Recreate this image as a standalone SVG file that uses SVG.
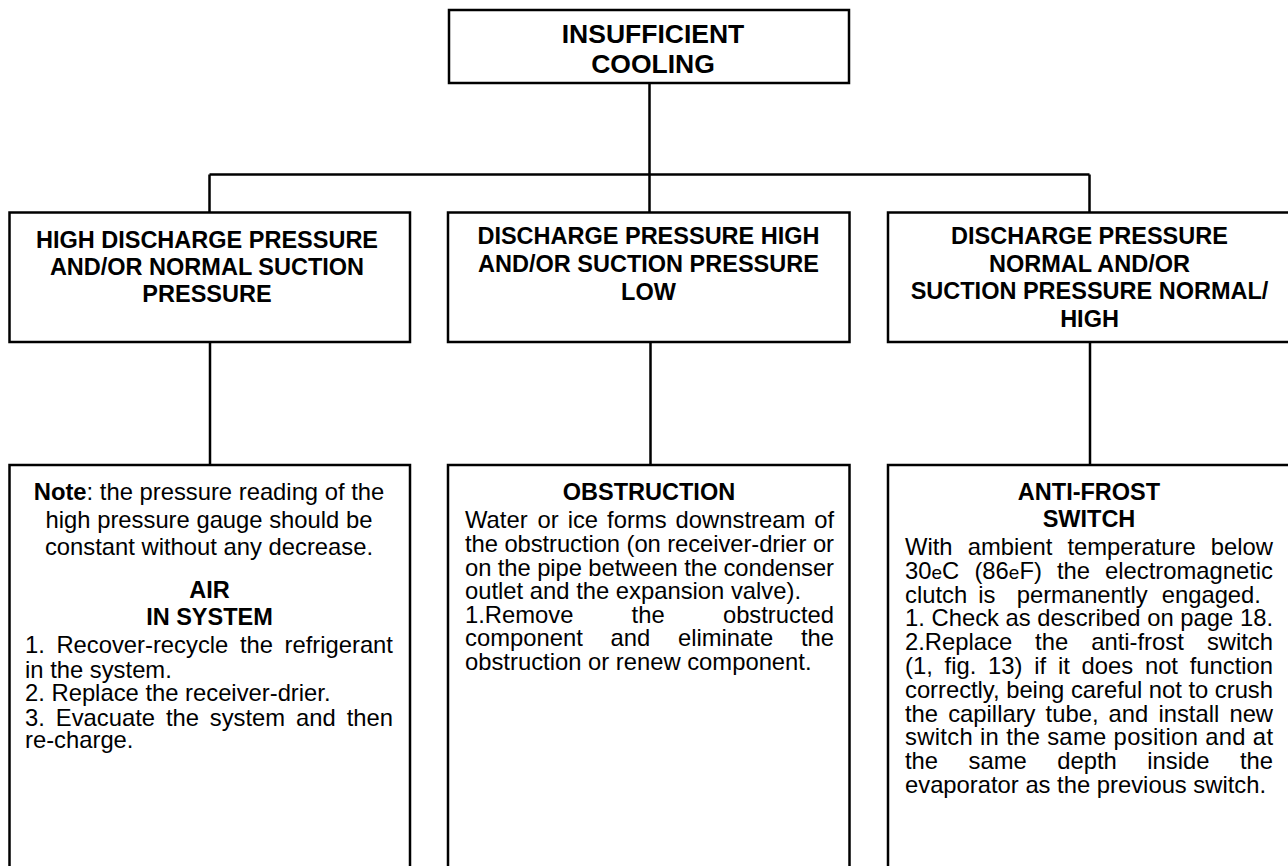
<svg xmlns="http://www.w3.org/2000/svg" width="1288" height="866" viewBox="0 0 1288 866">
<style>
.box{fill:#fff;stroke:#000;stroke-width:2.5}
.conn{fill:none;stroke:#000;stroke-width:2.5}
.h{font-family:"Liberation Sans",Arial,Helvetica,sans-serif;font-weight:bold;font-size:23.5px;text-anchor:middle;fill:#000}
.top{font-size:26.5px}
.t{font-family:"Liberation Sans",Arial,Helvetica,sans-serif;font-size:23.8px;fill:#000}
.c{text-anchor:middle}
.b{font-weight:bold}
.deg{font-size:19px}
</style>
<rect width="1288" height="866" fill="#fff"/>
<g id="connectors">
<path class="conn" d="M649.5 83 V174.5 M209.5 174.5 H1089.5 M209.5 174.5 V212.5 M649.5 174.5 V212.5 M1089.5 174.5 V212.5"/>
<path class="conn" d="M210 342 V465 M650.5 342 V465 M1090 342 V465"/>
</g>
<g id="node-insufficient-cooling">
<rect class="box" x="449" y="10" width="400" height="73"/>
<text class="h top" x="653" y="43">INSUFFICIENT</text>
<text class="h top" x="653" y="72.7">COOLING</text>
</g>
<g id="node-high-discharge">
<rect class="box" x="9.5" y="212.5" width="400.5" height="129.5"/>
<text class="h" x="207" y="248">HIGH DISCHARGE PRESSURE</text>
<text class="h" x="207" y="275">AND/OR NORMAL SUCTION</text>
<text class="h" x="207" y="302">PRESSURE</text>
</g>
<g id="node-discharge-high-suction-low">
<rect class="box" x="448" y="212.5" width="401.5" height="129.5"/>
<text class="h" x="648.5" y="244.3">DISCHARGE PRESSURE HIGH</text>
<text class="h" x="648.5" y="272">AND/OR SUCTION PRESSURE</text>
<text class="h" x="648.5" y="300">LOW</text>
</g>
<g id="node-discharge-normal">
<rect class="box" x="888" y="212.5" width="420" height="129.5"/>
<text class="h" x="1089.5" y="244">DISCHARGE PRESSURE</text>
<text class="h" x="1089.5" y="271.7">NORMAL AND/OR</text>
<text class="h" x="1089.5" y="299.3">SUCTION PRESSURE NORMAL/</text>
<text class="h" x="1089.5" y="326.7">HIGH</text>
</g>
<g id="node-air-in-system">
<rect class="box" x="9.5" y="465" width="400.5" height="450"/>
<text class="t c" x="209" y="500"><tspan class="b">Note</tspan>: the pressure reading of the</text>
<text class="t c" x="209" y="527.5">high pressure gauge should be</text>
<text class="t c" x="209" y="554.5">constant without any decrease.</text>
<text class="h" x="209.5" y="597.7">AIR</text>
<text class="h" x="209.5" y="625">IN SYSTEM</text>
<text class="t" y="653"><tspan x="25">1.</tspan><tspan x="56.4">Recover-recycle</tspan><tspan x="239.9">the</tspan><tspan x="284.5">refrigerant</tspan></text>
<text class="t" x="25" y="677.5">in the system.</text>
<text class="t" x="25" y="700.7">2. Replace the receiver-drier.</text>
<text class="t" y="726"><tspan x="25">3.</tspan><tspan x="55.8">Evacuate</tspan><tspan x="165.9">the</tspan><tspan x="209.8">system</tspan><tspan x="296.1">and</tspan><tspan x="346.7">then</tspan></text>
<text class="t" x="25" y="748.3">re-charge.</text>
</g>
<g id="node-obstruction">
<rect class="box" x="448" y="465" width="401.5" height="450"/>
<text class="h" x="649" y="500">OBSTRUCTION</text>
<text class="t" y="528.3"><tspan x="465">Water</tspan><tspan x="537.5">or</tspan><tspan x="567.7">ice</tspan><tspan x="607.1">forms</tspan><tspan x="675.6">downstream</tspan><tspan x="814.2">of</tspan></text>
<text class="t" x="465" y="551.9" textLength="369" lengthAdjust="spacing">the obstruction (on receiver-drier or</text>
<text class="t" x="465" y="575.5" textLength="369" lengthAdjust="spacing">on the pipe between the condenser</text>
<text class="t" x="465" y="599.1">outlet and the expansion valve).</text>
<text class="t" y="622.7"><tspan x="465">1.Remove</tspan><tspan x="631.6">the</tspan><tspan x="722.9">obstructed</tspan></text>
<text class="t" y="646.3"><tspan x="465">component</tspan><tspan x="610.5">and</tspan><tspan x="677.9">eliminate</tspan><tspan x="800.9">the</tspan></text>
<text class="t" x="465" y="669.9">obstruction or renew component.</text>
</g>
<g id="node-anti-frost-switch">
<rect class="box" x="888" y="465" width="420" height="450"/>
<text class="h" x="1089" y="500">ANTI-FROST</text>
<text class="h" x="1089" y="527.3">SWITCH</text>
<text class="t" y="555"><tspan x="905">With</tspan><tspan x="967.7">ambient</tspan><tspan x="1067.4">temperature</tspan><tspan x="1210.8">below</tspan></text>
<text class="t" y="578.8"><tspan x="905">30<tspan class="deg">e</tspan>C</tspan><tspan x="974.4">(86<tspan class="deg">e</tspan>F)</tspan><tspan x="1056.9">the</tspan><tspan x="1105">electromagnetic</tspan></text>
<text class="t" y="602.6"><tspan x="905">clutch</tspan><tspan x="978.3">is</tspan><tspan x="1016.7">permanently</tspan><tspan x="1161.7">engaged.</tspan></text>
<text class="t" x="905" y="626.4" textLength="368" lengthAdjust="spacing">1. Check as described on page 18.</text>
<text class="t" y="650.2"><tspan x="905">2.Replace</tspan><tspan x="1035.1">the</tspan><tspan x="1091.2">anti-frost</tspan><tspan x="1206.9">switch</tspan></text>
<text class="t" y="674"><tspan x="905">(1,</tspan><tspan x="944.6">fig.</tspan><tspan x="988">13)</tspan><tspan x="1034.2">if</tspan><tspan x="1057.9">it</tspan><tspan x="1081.5">does</tspan><tspan x="1144.9">not</tspan><tspan x="1189.7">function</tspan></text>
<text class="t" x="905" y="697.8" textLength="368" lengthAdjust="spacing">correctly, being careful not to crush</text>
<text class="t" y="721.6"><tspan x="905">the</tspan><tspan x="948.2">capillary</tspan><tspan x="1045.6">tube,</tspan><tspan x="1108.6">and</tspan><tspan x="1158.4">install</tspan><tspan x="1229.4">new</tspan></text>
<text class="t" x="905" y="745.4" textLength="368" lengthAdjust="spacing">switch in the same position and at</text>
<text class="t" y="769.2"><tspan x="905">the</tspan><tspan x="968.6">same</tspan><tspan x="1057.3">depth</tspan><tspan x="1147.3">inside</tspan><tspan x="1239.9">the</tspan></text>
<text class="t" x="905" y="793">evaporator as the previous switch.</text>
</g>
</svg>
